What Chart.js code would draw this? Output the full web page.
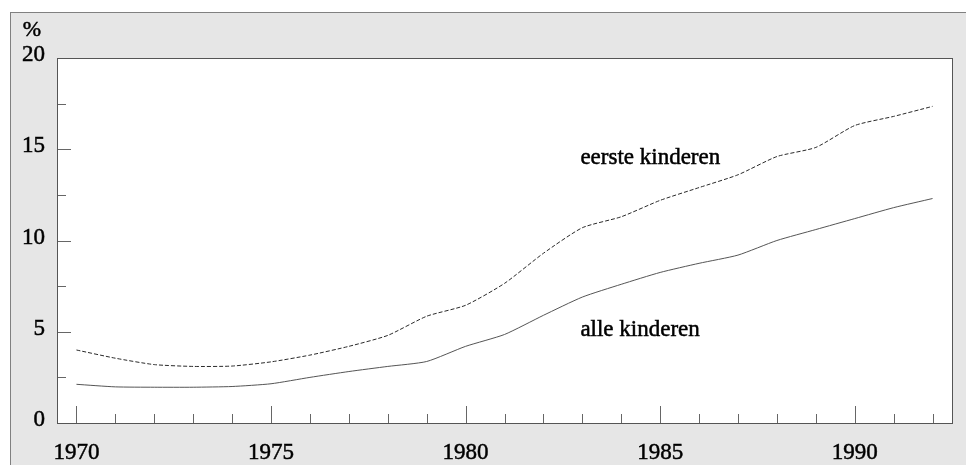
<!DOCTYPE html>
<html>
<head>
<meta charset="utf-8">
<script src="https://cdn.jsdelivr.net/npm/chart.js@4/dist/chart.umd.min.js"></script>
<style>
  html, body { margin: 0; padding: 0; background: #fff; }
  #frame { position: absolute; left: 10px; top: 12px; width: 956px; height: 453px;
           background: #e6e6e6; border-left: 1px solid #808080; border-top: 1px solid #808080; box-sizing: border-box; }
  #wrap { position: absolute; left: 0; top: 0; width: 966px; height: 465px; }
</style>
</head>
<body>
<div id="frame"></div>
<div id="wrap"><canvas id="myChart"></canvas></div>
<script>
// data
const years = [1970, 1971, 1972, 1973, 1974, 1975, 1976, 1977, 1978, 1979, 1980,
               1981, 1982, 1983, 1984, 1985, 1986, 1987, 1988, 1989, 1990, 1991, 1992];
const eersteKinderen = [4.0, 3.55, 3.2, 3.1, 3.12, 3.35, 3.72, 4.2, 4.8, 5.85, 6.45,
                        7.65, 9.3, 10.7, 11.3, 12.2, 12.9, 13.6, 14.6, 15.1, 16.3, 16.8, 17.35];
const alleKinderen = [2.12, 1.98, 1.96, 1.96, 2.0, 2.15, 2.5, 2.82, 3.1, 3.37, 4.2,
                      4.85, 5.9, 6.9, 7.6, 8.25, 8.75, 9.2, 10.0, 10.6, 11.2, 11.8, 12.3];
const xTicks = [1970, 1975, 1980, 1985, 1990];
const yTicks = [0, 5, 10, 15, 20];

const serif = '"Liberation Serif", "DejaVu Serif", serif';

function pairs(vals) {
  return years.map((y, i) => ({ x: y, y: vals[i] }));
}

function label(ctx, txt, x, y) {
  ctx.fillText(txt, x, y);
  ctx.strokeText(txt, x, y);
}

// white plot box, inward tick marks, frame and the text labels
const decor = {
  id: 'decor',
  beforeDatasetsDraw(chart) {
    const ctx = chart.ctx;
    const a = chart.chartArea;
    const xs = chart.scales.x;
    const ys = chart.scales.y;
    ctx.save();
    ctx.strokeStyle = '#666';
    ctx.lineWidth = 1;
    ctx.beginPath();
    for (let yr = 1970; yr <= 1992; yr++) {
      const px = Math.round(xs.getPixelForValue(yr)) + 0.5;
      const len = xTicks.includes(yr) ? 17 : 9;
      ctx.moveTo(px, a.bottom);
      ctx.lineTo(px, a.bottom - len);
    }
    for (let v = 2.5; v < 20; v += 2.5) {
      const py = Math.round(ys.getPixelForValue(v)) + 0.5;
      const len = yTicks.includes(v) ? 14 : 9;
      ctx.moveTo(a.left, py);
      ctx.lineTo(a.left + len, py);
    }
    ctx.stroke();
    ctx.strokeStyle = '#555';
    ctx.strokeRect(Math.round(a.left) + 0.5, Math.round(a.top) + 0.5,
                   Math.round(a.right - a.left), Math.round(a.bottom - a.top));

    ctx.fillStyle = '#000';
    ctx.strokeStyle = '#000';
    ctx.lineWidth = 0.5;
    ctx.textBaseline = 'middle';
    ctx.textAlign = 'left';
    ctx.font = '23px ' + serif;
    label(ctx, 'eerste kinderen', xs.getPixelForValue(1982.95), ys.getPixelForValue(14.5));
    label(ctx, 'alle kinderen', xs.getPixelForValue(1982.95), ys.getPixelForValue(5.1));
    ctx.font = '22px ' + serif;
    ctx.textAlign = 'center';
    label(ctx, '%', 32, 30);
    ctx.restore();
  },
  beforeDraw(chart) {
    const ctx = chart.ctx;
    const a = chart.chartArea;
    ctx.save();
    ctx.fillStyle = '#fff';
    ctx.fillRect(a.left, a.top, a.right - a.left, a.bottom - a.top);
    ctx.restore();
  }
};

new Chart(document.getElementById('myChart'), {
  type: 'line',
  data: {
    datasets: [
      {
        label: 'eerste kinderen',
        data: pairs(eersteKinderen),
        borderColor: '#2a2a2a',
        borderWidth: 1,
        borderDash: [4, 2],
        pointRadius: 0,
        tension: 0.2,
        fill: false
      },
      {
        label: 'alle kinderen',
        data: pairs(alleKinderen),
        borderColor: '#555',
        borderWidth: 1,
        pointRadius: 0,
        tension: 0.2,
        fill: false
      }
    ]
  },
  options: {
    responsive: true,
    maintainAspectRatio: false,
    animation: false,
    layout: { padding: { left: 0, top: 58, right: 14, bottom: 0 } },
    plugins: {
      legend: { display: false },
      tooltip: { enabled: false }
    },
    scales: {
      x: {
        type: 'linear',
        min: 1969.5,
        max: 1992.5,
        grid: { display: false },
        border: { display: false },
        afterBuildTicks: (s) => { s.ticks = xTicks.map(v => ({ value: v })); },
        afterFit: (s) => { s.height = 42; },
        ticks: {
          padding: 8,
          maxRotation: 0,
          color: '#000',
          textStrokeColor: '#000',
          textStrokeWidth: 0.5,
          font: { family: serif, size: 23 },
          callback: (v) => String(v)
        }
      },
      y: {
        min: 0,
        max: 20,
        grid: { display: false },
        border: { display: false },
        afterBuildTicks: (s) => { s.ticks = yTicks.map(v => ({ value: v })); },
        afterFit: (s) => { s.width = 57; },
        ticks: {
          padding: 4,
          labelOffset: -3,
          color: '#000',
          textStrokeColor: '#000',
          textStrokeWidth: 0.5,
          font: { family: serif, size: 23 },
          callback: (v) => String(v)
        }
      }
    }
  },
  plugins: [decor]
});
</script>
</body>
</html>
